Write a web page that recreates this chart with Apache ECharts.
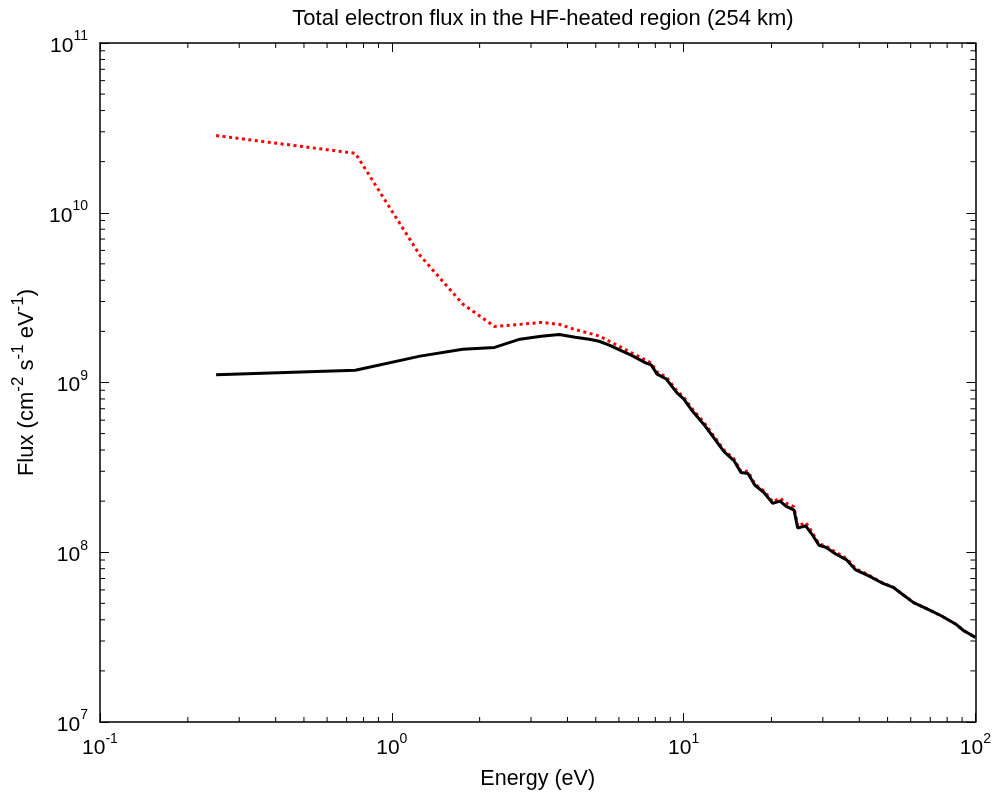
<!DOCTYPE html>
<html>
<head>
<meta charset="utf-8">
<script src="https://cdn.jsdelivr.net/npm/echarts@6.0.0/dist/echarts.min.js"></script>
<style>
  html, body { margin: 0; padding: 0; background: #fff; }
  #chart { width: 994px; height: 795px; }
</style>
</head>
<body>
<div id="chart"></div>
<script>
// energy grid (eV)
const energy = [0.25, 0.75, 1.25, 1.75, 2.25, 2.75, 3.25, 3.75, 4.25, 4.75,
  5.13, 5.56, 6.16, 6.61, 7.44, 7.74, 8.11, 8.71, 9.49, 10.0,
  10.7, 11.75, 12.9, 13.75, 14.87, 15.72, 16.61, 17.55, 18.84, 20.2,
  21.4, 22.4, 23.9, 24.6, 26.2, 27.5, 29.1, 30.7, 33.2, 36.2,
  38.9, 43.1, 47.7, 52.5, 55.9, 61.4, 68.0, 76.0, 86.1, 91.0, 100];

// solid black curve
const fluxSolid = [1.11e9, 1.18e9, 1.43e9, 1.57e9, 1.61e9, 1.80e9, 1.87e9, 1.92e9, 1.85e9, 1.80e9,
  1.75e9, 1.66e9, 1.53e9, 1.45e9, 1.30e9, 1.27e9, 1.12e9, 1.05e9, 8.68e8, 8.0e8,
  6.81e8, 5.64e8, 4.54e8, 3.92e8, 3.47e8, 2.95e8, 2.91e8, 2.48e8, 2.25e8, 1.94e8,
  2.0e8, 1.87e8, 1.77e8, 1.39e8, 1.43e8, 1.28e8, 1.10e8, 1.07e8, 9.77e7, 9.01e7,
  7.87e7, 7.26e7, 6.61e7, 6.18e7, 5.70e7, 5.05e7, 4.65e7, 4.24e7, 3.75e7, 3.46e7, 3.15e7];

// dotted red curve
const fluxDotted = [2.85e10, 2.24e10, 5.6e9, 2.9e9, 2.14e9, 2.2e9, 2.26e9, 2.2e9, 2.05e9, 1.95e9,
  1.88e9, 1.75e9, 1.6e9, 1.5e9, 1.35e9, 1.3e9, 1.15e9, 1.08e9, 8.9e8, 8.2e8,
  7.0e8, 5.8e8, 4.65e8, 4.0e8, 3.55e8, 3.0e8, 3.0e8, 2.52e8, 2.3e8, 1.98e8,
  2.08e8, 1.95e8, 1.85e8, 1.42e8, 1.5e8, 1.32e8, 1.12e8, 1.09e8, 1.0e8, 9.2e7,
  8.0e7, 7.35e7, 6.65e7, 6.2e7, 5.70e7, 5.05e7, 4.65e7, 4.24e7, 3.75e7, 3.46e7, 3.15e7];

const xDecades = [0.1, 1, 10];
const yDecades = [1e7, 1e8, 1e9, 1e10];
const minorSteps = [2, 3, 4, 5, 6, 7, 8, 9];
const xMin = 0.1, xMax = 100, yMin = 1e7, yMax = 1e11;

const xMinorTicks = [];
xDecades.forEach(d => minorSteps.forEach(m => xMinorTicks.push([d * m, yMin])));
const yMinorTicks = [];
yDecades.forEach(d => minorSteps.forEach(m => yMinorTicks.push([xMin, d * m])));

const FONT = "'Liberation Sans', Arial, sans-serif";
const minorLen = 5;

function powLabel(v) {
  const e = Math.round(Math.log10(v));
  return '{b|10}{s|' + e + '}';
}
const powRich = {
  b: { fontSize: 21, fontFamily: FONT, color: '#000', verticalAlign: 'bottom', lineHeight: 27 },
  s: { fontSize: 14, fontFamily: FONT, color: '#000', verticalAlign: 'top', lineHeight: 14 }
};

function axisCommon(extra) {
  return Object.assign({
    type: 'log',
    logBase: 10,
    axisLine: { show: true, onZero: false, lineStyle: { color: '#000', width: 1.5 } },
    axisTick: { show: true, inside: true, length: 9, lineStyle: { color: '#000', width: 1 } },
    splitLine: { show: false },
    minorTick: { show: false }
  }, extra);
}

const chart = echarts.init(document.getElementById('chart'), null, { renderer: 'canvas' });

chart.setOption({
  animation: false,
  backgroundColor: '#fff',
  title: {
    text: 'Total electron flux in the HF-heated region (254 km)',
    left: 538,
    textAlign: 'center',
    top: 3,
    textStyle: { fontSize: 22, fontWeight: 'normal', color: '#000', fontFamily: FONT }
  },
  grid: { left: 100, right: 17, top: 43, bottom: 69, containLabel: false },
  xAxis: [
    axisCommon({
      position: 'bottom', min: xMin, max: xMax,
      name: 'Energy (eV)', nameLocation: 'middle', nameGap: 46,
      nameTextStyle: { fontSize: 21.5, color: '#000', fontFamily: FONT },
      axisLabel: { margin: 10, formatter: powLabel, rich: powRich }
    }),
    axisCommon({ position: 'top', min: xMin, max: xMax, axisLabel: { show: false } })
  ],
  yAxis: [
    axisCommon({
      position: 'left', min: yMin, max: yMax,
      name: '{n|Flux (cm}{s|-2}{n| s}{s|-1}{n| eV}{s|-1}{n|)}',
      nameLocation: 'middle', nameGap: 62, nameRotate: 90,
      nameTextStyle: {
        fontSize: 22, color: '#000', fontFamily: FONT,
        rich: {
          n: { fontSize: 22, fontFamily: FONT, color: '#000', verticalAlign: 'bottom', lineHeight: 28 },
          s: { fontSize: 17, fontFamily: FONT, color: '#000', verticalAlign: 'top', lineHeight: 17 }
        }
      },
      axisLabel: { margin: 12, formatter: powLabel, rich: powRich }
    }),
    axisCommon({ position: 'right', min: yMin, max: yMax, axisLabel: { show: false } })
  ],
  series: [
    {
      type: 'line',
      name: 'dotted',
      xAxisIndex: 0, yAxisIndex: 0,
      showSymbol: false,
      data: energy.map((e, i) => [e, fluxDotted[i]]),
      lineStyle: { color: '#ff0000', width: 3, type: [3, 3.5] },
      z: 3
    },
    {
      type: 'line',
      name: 'solid',
      xAxisIndex: 0, yAxisIndex: 0,
      showSymbol: false,
      data: energy.map((e, i) => [e, fluxSolid[i]]),
      lineStyle: { color: '#000', width: 3 },
      z: 4
    },
    {
      type: 'custom',
      xAxisIndex: 0, yAxisIndex: 0,
      silent: true,
      data: xMinorTicks,
      renderItem(params, api) {
        const v = api.value(0);
        const b = api.coord([v, yMin]);
        const t = api.coord([v, yMax]);
        return {
          type: 'group',
          children: [
            { type: 'line', shape: { x1: b[0], y1: b[1], x2: b[0], y2: b[1] - minorLen }, style: { stroke: '#000', lineWidth: 1 } },
            { type: 'line', shape: { x1: t[0], y1: t[1], x2: t[0], y2: t[1] + minorLen }, style: { stroke: '#000', lineWidth: 1 } }
          ]
        };
      },
      z: 5
    },
    {
      type: 'custom',
      xAxisIndex: 0, yAxisIndex: 0,
      silent: true,
      data: yMinorTicks,
      renderItem(params, api) {
        const v = api.value(1);
        const l = api.coord([xMin, v]);
        const r = api.coord([xMax, v]);
        return {
          type: 'group',
          children: [
            { type: 'line', shape: { x1: l[0], y1: l[1], x2: l[0] + minorLen, y2: l[1] }, style: { stroke: '#000', lineWidth: 1 } },
            { type: 'line', shape: { x1: r[0], y1: r[1], x2: r[0] - minorLen, y2: r[1] }, style: { stroke: '#000', lineWidth: 1 } }
          ]
        };
      },
      z: 5
    }
  ]
});
</script>
</body>
</html>
